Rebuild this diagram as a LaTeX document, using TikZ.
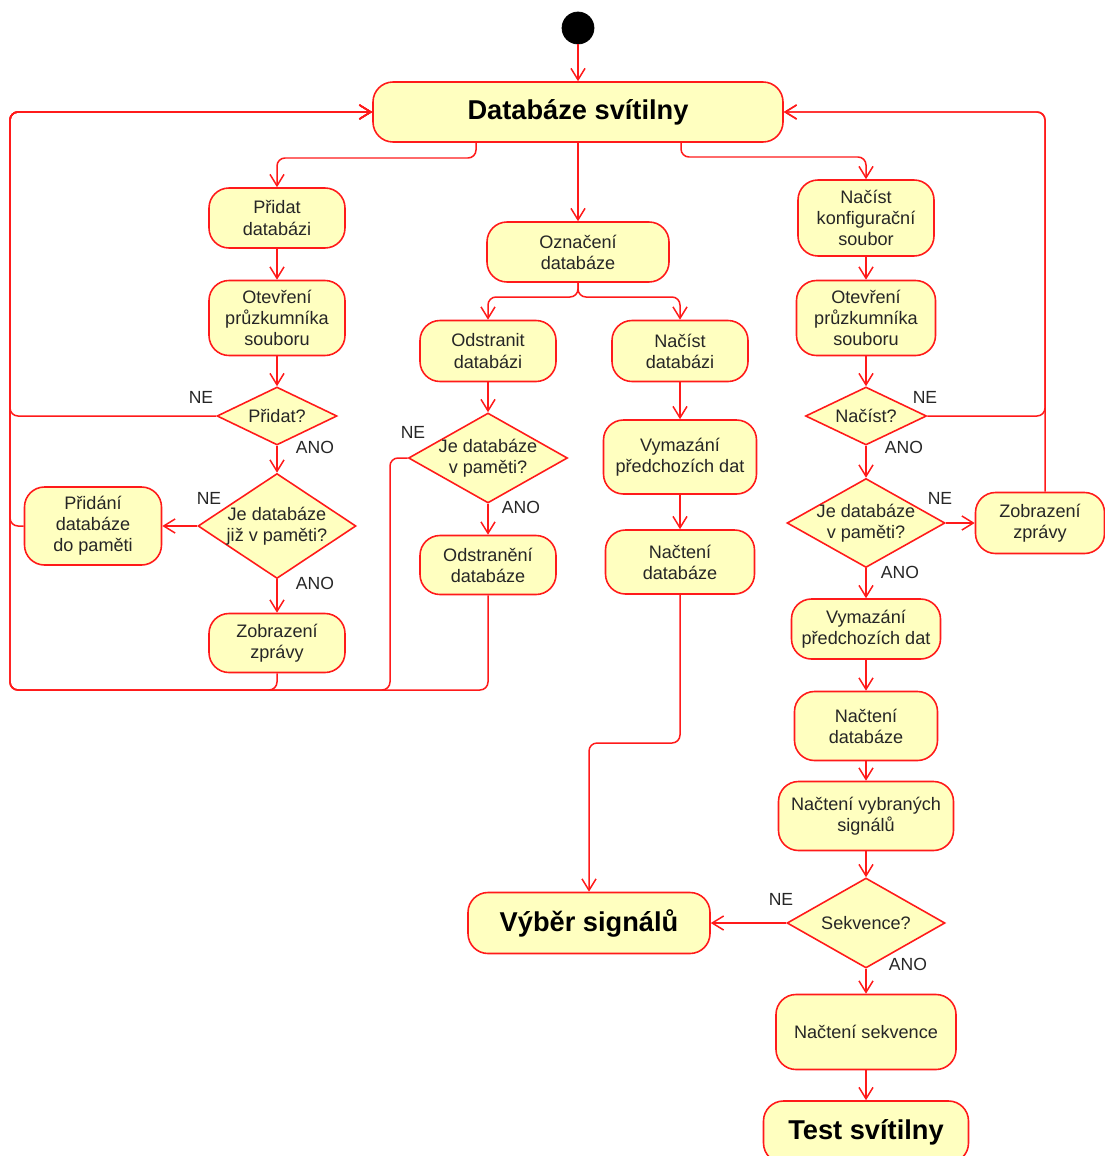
\documentclass[tikz,border=0pt]{standalone}
\usepackage{fontspec}
\setmainfont{Liberation Sans}
\usetikzlibrary{shapes.geometric,arrows.meta}
\definecolor{actfill}{HTML}{FFFFC0}
\definecolor{actline}{HTML}{FF1A1A}
\definecolor{txt}{HTML}{262626}
\tikzset{
  sz/.style 2 args={minimum width=#1*0.02cm, minimum height=#2*0.02cm},
  act/.style={draw=actline, fill=actfill, line width=0.9pt, rounded corners=0.4cm,
    align=center, inner sep=0pt, text=txt, font=\fontsize{10.3}{12}\selectfont},
  bigact/.style={act, text=black, font=\fontsize{15.5}{17}\selectfont\bfseries},
  dec/.style={diamond, draw=actline, fill=actfill, line width=0.9pt, inner sep=0pt},
  dtxt/.style={align=center, text=txt, font=\fontsize{10.3}{12}\selectfont},
  lbl/.style={text=txt, font=\fontsize{10}{12}\selectfont, inner sep=0pt},
  flow/.style={draw=actline, line width=0.85pt, rounded corners=0.16cm,
    -{Straight Barb[length=6.5pt,width=8pt]}},
}
\begin{document}
\begin{tikzpicture}[x=0.02cm, y=-0.02cm]
\useasboundingbox (0,0) rectangle (1105,1156);

% start and main state
\node[circle, fill=black, draw=black, minimum size=32*0.02cm, inner sep=0pt] (start) at (578,28) {};
\node[bigact, sz={410}{60}] (db) at (578,112) {Databáze svítilny};

% left branch: adding a database
\node[act, sz={136}{60}] (pa) at (277,218) {Přidat\\databázi};
\node[act, sz={136}{75}] (op1) at (277,318) {Otevření\\průzkumníka\\souboru};
\node[dec, sz={120}{58}, label={[dtxt]center:Přidat?}] (pq) at (277,416) {};
\node[dec, sz={158}{105}, label={[dtxt]center:Je databáze\\již v paměti?}] (jj) at (277,526) {};
\node[act, sz={137}{78}] (pd) at (93,526) {Přidání\\databáze\\do paměti};
\node[act, sz={136}{59}] (zz1) at (277,643) {Zobrazení\\zprávy};

% middle branch: marking a database
\node[act, sz={182}{60}] (oz) at (578,252) {Označení\\databáze};
\node[act, sz={136}{61}] (os) at (488,351) {Odstranit\\databázi};
\node[dec, sz={159}{90}, label={[dtxt]center:Je databáze\\v paměti?}] (jm) at (488,458) {};
\node[act, sz={136}{59}] (od) at (488,565) {Odstranění\\databáze};
\node[act, sz={136}{61}] (nd) at (680,351) {Načíst\\databázi};
\node[act, sz={153}{74}] (vm) at (680,457) {Vymazání\\předchozích dat};
\node[act, sz={149}{64}] (nc) at (680,562) {Načtení\\databáze};
\node[bigact, sz={242}{61}] (vs) at (589,923) {Výběr signálů};

% right branch: loading a configuration file
\node[act, sz={136}{76}] (nk) at (866,218) {Načíst\\konfigurační\\soubor};
\node[act, sz={139}{75}] (op2) at (866,318) {Otevření\\průzkumníka\\souboru};
\node[dec, sz={121}{58}, label={[dtxt]center:Načíst?}] (nq) at (866,416) {};
\node[dec, sz={158}{89}, label={[dtxt]center:Je databáze\\v paměti?}] (jr) at (866,523) {};
\node[act, sz={129}{61}] (zr) at (1040,523) {Zobrazení\\zprávy};
\node[act, sz={149}{60}] (vr) at (866,629) {Vymazání\\předchozích dat};
\node[act, sz={143}{69}] (ncr) at (866,726) {Načtení\\databáze};
\node[act, sz={175}{69}] (nvs) at (866,816) {Načtení vybraných\\signálů};
\node[dec, sz={158}{90}, label={[dtxt]center:Sekvence?}] (sq) at (866,923) {};
\node[act, sz={180}{75}] (ns) at (866,1032) {Načtení sekvence};
\node[bigact, sz={205}{62}] (ts) at (866,1132) {Test svítilny};

% branch labels
\node[lbl] (l1) at (201,397) {NE};
\node[lbl] (l2) at (315,447) {ANO};
\node[lbl] (l3) at (209,498) {NE};
\node[lbl] (l4) at (315,583) {ANO};
\node[lbl] (l5) at (413,432) {NE};
\node[lbl] (l6) at (521,507) {ANO};
\node[lbl] (l7) at (925,397) {NE};
\node[lbl] (l8) at (904,447) {ANO};
\node[lbl] (l9) at (940,498) {NE};
\node[lbl] (l10) at (900,572) {ANO};
\node[lbl] (l11) at (781,899) {NE};
\node[lbl] (l12) at (908,964) {ANO};

% connectors from the main state
\draw[flow] (start) -- (db);
\draw[flow] (476,0 |- db.south) |- (277,158) -- (pa.north);
\draw[flow] (db) -- (oz);
\draw[flow] (681,0 |- db.south) |- (866,157) -- (nk.north);

% left branch
\draw[flow] (pa) -- (op1);
\draw[flow] (op1) -- (pq);
\draw[flow] (pq) -- (jj);
\draw[flow] (jj.west) -- (pd.east);
\draw[flow] (jj) -- (zz1);
\draw[flow] (pq.west) -| (10,112) -- (db.west);
\draw[flow] (pd.west) -| (10,112) -- (db.west);
\draw[flow] (zz1.south) |- (10,690) |- (db.west);

% middle branch
\draw[flow] (oz.south) -- (578,297) -| (os.north);
\draw[flow] (oz.south) -- (578,297) -| (nd.north);
\draw[flow] (os) -- (jm);
\draw[flow] (jm) -- (od);
\draw[flow] (jm.west) -| (390,690) -| (10,112) -- (db.west);
\draw[flow] (od.south) |- (10,690) |- (db.west);
\draw[flow] (nd) -- (vm);
\draw[flow] (vm) -- (nc);
\draw[flow] (nc.south) -- (680,743) -| (vs.north);

% right branch
\draw[flow] (nk) -- (op2);
\draw[flow] (op2) -- (nq);
\draw[flow] (nq) -- (jr);
\draw[flow] (nq.east) -| (1045,112) -- (db.east);
\draw[flow] (jr.east) -- (zr.west);
\draw[flow] (1045,0 |- zr.north) |- (db.east);
\draw[flow] (jr) -- (vr);
\draw[flow] (vr) -- (ncr);
\draw[flow] (ncr) -- (nvs);
\draw[flow] (nvs) -- (sq);
\draw[flow] (sq.west) -- (vs.east);
\draw[flow] (sq) -- (ns);
\draw[flow] (ns) -- (ts);
\end{tikzpicture}
\end{document}
